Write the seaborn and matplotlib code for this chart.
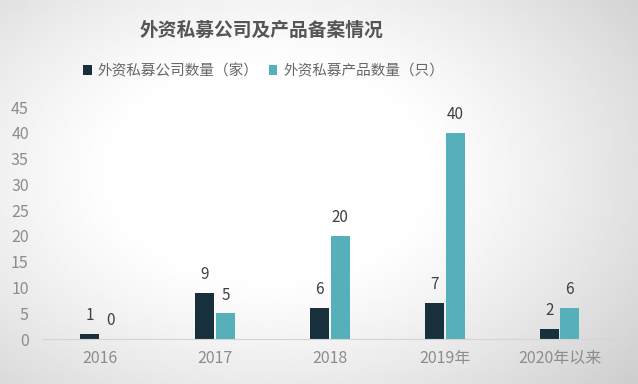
import numpy as np
import pandas as pd
import matplotlib
matplotlib.use('Agg')
import matplotlib.pyplot as plt
import seaborn as sns

#%% Data

years = ['2016', '2017', '2018', '2019年', '2020年以来']
companies = [1, 9, 6, 7, 2]
products = [0, 5, 20, 40, 6]
series_names = ['外资私募公司数量（家）', '外资私募产品数量（只）']
yticks = [0, 5, 10, 15, 20, 25, 30, 35, 40, 45]

df = pd.DataFrame({
    'year': years * 2,
    'value': companies + products,
    'series': [series_names[0]] * len(years) + [series_names[1]] * len(years),
})

#%% Style

sns.set_style('white')
plt.rcParams['font.family'] = ['Noto Sans CJK SC', 'DejaVu Sans']

dark = '#182f3c'
teal = '#55b0ba'
grey_txt = '#8c8c8c'

fig = plt.figure(figsize=(6.38, 3.84), dpi=100)

# radial grey background
bg = fig.add_axes([0, 0, 1, 1], zorder=-10)
gx, gy = np.meshgrid(np.linspace(0, 1, 320), np.linspace(0, 1, 200))
d = np.sqrt(((gx - 0.42) / 0.62) ** 2 + ((gy - 0.45) / 0.70) ** 2)
shade = np.clip(1.0 - 0.24 * np.clip(d - 0.38, 0, None) ** 1.2, 0, 1)
bg.imshow(shade, cmap='gray', vmin=0, vmax=1, aspect='auto', extent=(0, 1, 0, 1))
bg.set_axis_off()

ax = fig.add_axes([0.067, 0.117, 0.90, 0.604])
ax.patch.set_alpha(0)

sns.barplot(data=df, x='year', y='value', hue='series',
            palette=[dark, teal], saturation=1, width=0.36, gap=0.08, linewidth=0,
            ax=ax, legend=True)

for cont in ax.containers:
    labels = [f'{int(v)}' for v in cont.datavalues]
    ax.bar_label(cont, labels=labels, padding=7, fontsize=11, color='#404040')

ax.set_ylim(0, 45)
ax.set_yticks(yticks)
ax.set_xlim(-0.5, len(years) - 0.5)
ax.set_xlabel('')
ax.set_ylabel('')
sns.despine(ax=ax, left=True, top=True, right=True)
ax.spines['bottom'].set_color('#d4d4d4')
ax.tick_params(axis='y', length=0, pad=10, labelsize=11.5, labelcolor=grey_txt)
ax.tick_params(axis='x', length=0, pad=8, labelsize=11.5, labelcolor=grey_txt)

handles, labels = ax.get_legend_handles_labels()
ax.legend_.remove()
fig.legend(handles, labels, loc='center', bbox_to_anchor=(0.413, 0.815),
           ncol=2, frameon=False, fontsize=10.5, handlelength=0.6, handleheight=0.6,
           handletextpad=0.4, columnspacing=0.7, labelcolor='#666666')

fig.text(0.41, 0.92, '外资私募公司及产品备案情况', ha='center', va='center',
         fontsize=13.5, fontweight='bold', color='#555555')

fig.savefig('out.png', dpi=100)
